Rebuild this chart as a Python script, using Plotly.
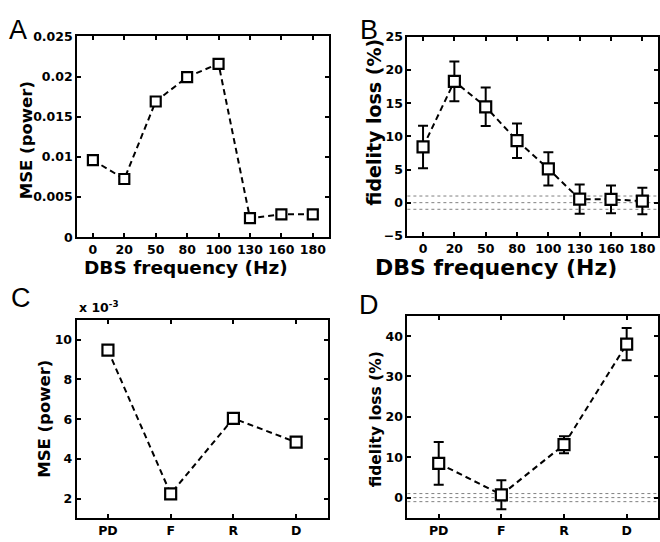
import plotly.graph_objects as go

# ---- data ----
freq_labels = ["0", "20", "50", "80", "100", "130", "160", "180"]
mse_freq = [0.0096, 0.00725, 0.0169, 0.01995, 0.0216, 0.00237, 0.00285, 0.00285]
fid_freq = [8.4, 18.3, 14.45, 9.35, 5.1, 0.53, 0.5, 0.24]
fid_freq_err = [3.2, 3.0, 2.9, 2.6, 2.5, 2.2, 2.1, 2.0]

cond_labels = ["PD", "F", "R", "D"]
mse_cond = [0.00947, 0.00224, 0.00604, 0.00484]
fid_cond = [8.5, 0.7, 13.1, 38.0]
fid_cond_err = [5.3, 3.6, 2.1, 4.0]

ref_lines = [-1, 0, 1]

mse_c_ticks = [0.002, 0.004, 0.006, 0.008, 0.010]
mse_c_ticktext = ["2", "4", "6", "8", "10"]

W, H = 660, 542
FONT = "DejaVu Sans"

def px(x):
    return x / W

def py(y):
    return 1 - y / H

fig = go.Figure()

line_style = dict(color="black", width=2, dash="6px,4px")

def marker(sz):
    return dict(symbol="square", size=sz, color="white", line=dict(color="black", width=2.2))

fig.add_trace(go.Scatter(x=freq_labels, y=mse_freq, mode="lines+markers",
                         line=line_style, marker=marker(10), xaxis="x", yaxis="y"))
fig.add_trace(go.Scatter(x=freq_labels, y=fid_freq, mode="lines+markers",
                         line=line_style, marker=marker(11),
                         error_y=dict(type="data", array=fid_freq_err, color="black", thickness=2, width=5),
                         xaxis="x2", yaxis="y2"))
fig.add_trace(go.Scatter(x=cond_labels, y=mse_cond, mode="lines+markers",
                         line=line_style, marker=marker(11), xaxis="x3", yaxis="y3"))
fig.add_trace(go.Scatter(x=cond_labels, y=fid_cond, mode="lines+markers",
                         line=line_style, marker=marker(11),
                         error_y=dict(type="data", array=fid_cond_err, color="black", thickness=2, width=5),
                         xaxis="x4", yaxis="y4"))

# reference dotted lines
for xa, ya in (("x2", "y2"), ("x4", "y4")):
    for v in ref_lines:
        fig.add_shape(type="line", xref=f"{xa} domain", yref=ya, x0=0, x1=1, y0=v, y1=v,
                      line=dict(color="#808080", width=1, dash="dot"), layer="below")

tickfont = dict(family=FONT, size=12.5, color="black", weight="bold")

def axis_common():
    return dict(showline=True, linecolor="black", linewidth=2, mirror="ticks",
                ticks="inside", ticklen=4, tickwidth=1.5, tickcolor="black",
                showgrid=False, zeroline=False, tickfont=tickfont, fixedrange=True)

dom = {
    "A": ([px(77.3), px(329)], [py(235.7), py(29.3)]),
    "B": ([px(408), px(659)], [py(234.3), py(29.7)]),
    "C": ([px(76.7), px(328)], [py(525), py(320.7)]),
    "D": ([px(408), px(659)], [py(524.3), py(316.7)]),
}

fig.update_layout(
    width=W, height=H, margin=dict(l=0, r=0, t=0, b=0),
    paper_bgcolor="white", plot_bgcolor="white", showlegend=False,
    xaxis=dict(**axis_common(), domain=dom["A"][0], anchor="y", type="category", range=[-0.5, 7.5]),
    yaxis=dict(**axis_common(), domain=dom["A"][1], anchor="x", range=[0, 0.025],
               tickvals=[0, 0.005, 0.01, 0.015, 0.02, 0.025],
               ticktext=["0", "0.005", "0.01", "0.015", "0.02", "0.025"]),
    xaxis2=dict(**axis_common(), domain=dom["B"][0], anchor="y2", type="category", range=[-0.5, 7.5]),
    yaxis2=dict(**axis_common(), domain=dom["B"][1], anchor="x2", range=[-5, 25], dtick=5),
    xaxis3=dict(**axis_common(), domain=dom["C"][0], anchor="y3", type="category", range=[-0.5, 3.5]),
    yaxis3=dict(**axis_common(), domain=dom["C"][1], anchor="x3", range=[0.001, 0.011],
                tickvals=mse_c_ticks, ticktext=mse_c_ticktext),
    xaxis4=dict(**axis_common(), domain=dom["D"][0], anchor="y4", type="category", range=[-0.5, 3.5]),
    yaxis4=dict(**axis_common(), domain=dom["D"][1], anchor="x4", range=[-5, 45], dtick=10),
)

def ann(text, x, y, size, angle=0, weight="bold", family=FONT, xanchor="center", yanchor="middle"):
    fig.add_annotation(text=text, x=px(x), y=py(y), xref="paper", yref="paper",
                       showarrow=False, textangle=angle, xanchor=xanchor, yanchor=yanchor,
                       font=dict(family=family, size=size, color="black", weight=weight))

# axis titles
ann("DBS frequency (Hz)", 186, 267, 18.5)
ann("MSE (power)", 26, 136, 16.5, angle=-90)
ann("DBS frequency (Hz)", 497, 267, 22)
ann("fidelity loss (%)", 375, 117.5, 19, angle=-90)
ann("MSE (power)", 45, 422.5, 16.5, angle=-90)
ann("fidelity loss (%)", 376, 422.5, 15.5, angle=-90)

# exponent label
ann("x 10<sup>-3</sup>", 77, 318, 12.5, xanchor="left", yanchor="bottom")

# panel letters
ann("A", 18, 23, 27, weight="normal", family="Liberation Sans")
ann("B", 370, 23, 27, weight="normal", family="Liberation Sans")
ann("C", 21, 298, 27, weight="normal", family="Liberation Sans")
ann("D", 370, 305, 27, weight="normal", family="Liberation Sans")

fig.write_html("out.html", config={"displayModeBar": False},
               post_script="document.body.style.margin='0';document.body.style.overflow='hidden';")
